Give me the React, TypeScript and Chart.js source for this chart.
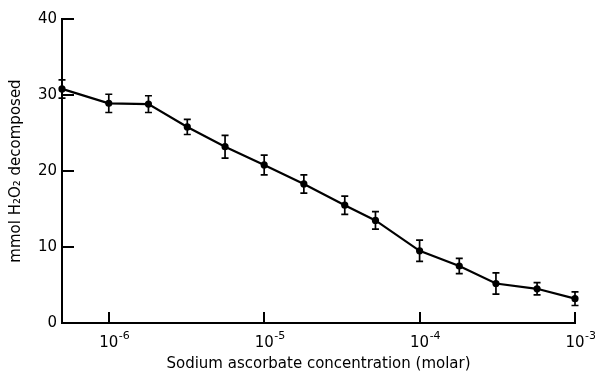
import React, { useEffect, useRef } from "react";
import { Chart, registerables } from "chart.js";

Chart.register(...registerables);

const xValues = [5e-7, 1e-6, 1.8e-6, 3.2e-6, 5.6e-6, 1e-5, 1.8e-5, 3.3e-5, 5.2e-5, 1e-4, 1.8e-4, 3.1e-4, 5.7e-4, 1e-3];
const yValues = [30.8, 28.9, 28.8, 25.8, 23.2, 20.8, 18.3, 15.5, 13.5, 9.5, 7.5, 5.2, 4.5, 3.2];
const yErrors = [1.2, 1.2, 1.1, 1.0, 1.5, 1.3, 1.2, 1.2, 1.15, 1.4, 1.0, 1.4, 0.8, 0.9];

const xTickValues = [1e-6, 1e-5, 1e-4, 1e-3];
const xTickBase = "10";
const xTickExponents = ["-6", "-5", "-4", "-3"];
const yTickValues = [0, 10, 20, 30, 40];

const xTitle = "Sodium ascorbate concentration (molar)";
const yTitle = "mmol H₂O₂ decomposed";

const FONT = "'DejaVu Sans', sans-serif";

const errorBarsPlugin = {
  id: "errorBars",
  afterDatasetsDraw(chart: any) {
    const ctx = chart.ctx;
    const xs = chart.scales.x;
    const ys = chart.scales.y;
    ctx.save();
    ctx.strokeStyle = "#000";
    ctx.lineWidth = 1.7;
    xValues.forEach((xv, i) => {
      const px = xs.getPixelForValue(xv);
      const top = ys.getPixelForValue(yValues[i] + yErrors[i]);
      const bot = ys.getPixelForValue(yValues[i] - yErrors[i]);
      ctx.beginPath();
      ctx.moveTo(px, top);
      ctx.lineTo(px, bot);
      ctx.moveTo(px - 3.5, top);
      ctx.lineTo(px + 3.5, top);
      ctx.moveTo(px - 3.5, bot);
      ctx.lineTo(px + 3.5, bot);
      ctx.stroke();
    });
    ctx.restore();
  },
};

const axisDecorPlugin = {
  id: "axisDecor",
  afterDraw(chart: any) {
    const ctx = chart.ctx;
    const xs = chart.scales.x;
    const ys = chart.scales.y;
    const area = chart.chartArea;
    ctx.save();
    ctx.strokeStyle = "#000";
    ctx.lineWidth = 2;
    yTickValues.forEach((v) => {
      const py = Math.round(ys.getPixelForValue(v));
      ctx.beginPath();
      ctx.moveTo(area.left, py);
      ctx.lineTo(area.left + 12, py);
      ctx.stroke();
    });
    xTickValues.forEach((v) => {
      const px = Math.round(xs.getPixelForValue(v));
      ctx.beginPath();
      ctx.moveTo(px, area.bottom);
      ctx.lineTo(px, area.bottom - 11);
      ctx.stroke();
    });
    ctx.fillStyle = "#000";
    ctx.textBaseline = "alphabetic";
    xTickValues.forEach((v, i) => {
      const px = xs.getPixelForValue(v);
      ctx.font = `15px ${FONT}`;
      const w = ctx.measureText(xTickBase).width;
      ctx.textAlign = "left";
      ctx.fillText(xTickBase, px - w / 2, area.bottom + 24);
      ctx.font = `11px ${FONT}`;
      ctx.fillText(xTickExponents[i], px + w / 2 + 0.5, area.bottom + 16);
    });
    ctx.restore();
  },
};

export default function App() {
  const ref = useRef<HTMLCanvasElement>(null);

  useEffect(() => {
    document.body.style.margin = "0";
    const canvas = ref.current!;
    const chart = new Chart(canvas, {
      type: "line",
      data: {
        datasets: [
          {
            data: xValues.map((x, i) => ({ x, y: yValues[i] })),
            borderColor: "#000",
            backgroundColor: "#000",
            borderWidth: 2.2,
            pointRadius: 3.6,
            pointHoverRadius: 3.6,
            pointBackgroundColor: "#000",
            pointBorderWidth: 0,
            tension: 0,
            clip: false as any,
          },
        ],
      },
      options: {
        animation: false,
        responsive: false,
        devicePixelRatio: 1,
        events: [],
        layout: { padding: { left: 0, right: 20, top: 19, bottom: 0 } },
        plugins: {
          legend: { display: false },
          tooltip: { enabled: false },
        },
        scales: {
          x: {
            type: "logarithmic",
            min: 5e-7,
            max: 1e-3,
            grid: { display: false, drawTicks: false, tickLength: 0 },
            border: { display: true, color: "#000", width: 2 },
            ticks: { display: false },
            afterBuildTicks: (scale: any) => {
              scale.ticks = xTickValues.map((value) => ({ value }));
            },
            afterFit: (scale: any) => {
              scale.height = 50;
            },
            title: {
              display: true,
              text: xTitle,
              color: "#000",
              font: { family: FONT, size: 15 },
              padding: { top: 0, bottom: 0 },
            },
          },
          y: {
            type: "linear",
            min: 0,
            max: 40,
            grid: { display: false, drawTicks: false, tickLength: 0 },
            border: { display: true, color: "#000", width: 2 },
            ticks: {
              stepSize: 10,
              padding: 5,
              color: "#000",
              font: { family: FONT, size: 15 },
            },
            afterBuildTicks: (scale: any) => {
              scale.ticks = yTickValues.map((value) => ({ value }));
            },
            afterFit: (scale: any) => {
              scale.width = 62;
            },
            title: {
              display: true,
              text: yTitle,
              color: "#000",
              font: { family: FONT, size: 15 },
              padding: { top: 7, bottom: 0 },
            },
          },
        },
      },
      plugins: [errorBarsPlugin, axisDecorPlugin],
    });
    return () => chart.destroy();
  }, []);

  return (
    <div style={{ position: "fixed", left: 0, top: 0, width: 595, height: 373, background: "#fff" }}>
      <canvas ref={ref} width={595} height={373} style={{ width: 595, height: 373 }} />
    </div>
  );
}
